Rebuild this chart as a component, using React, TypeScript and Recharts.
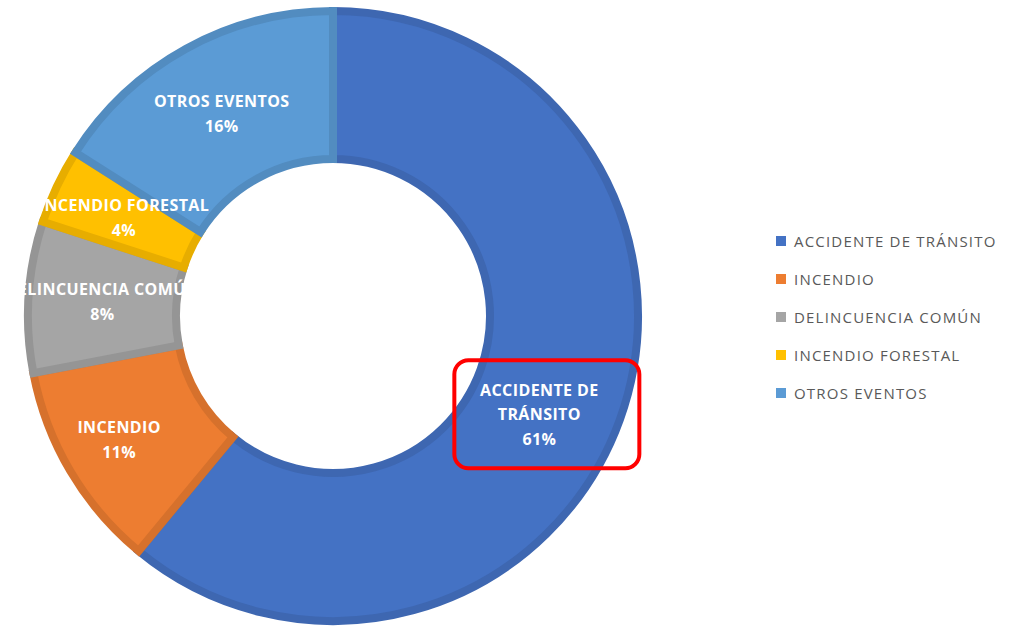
import { Legend, Pie, PieChart, Cell } from "recharts"

const categories = [
  "ACCIDENTE DE TRÁNSITO",
  "INCENDIO",
  "DELINCUENCIA COMÚN",
  "INCENDIO FORESTAL",
  "OTROS EVENTOS",
]
const values = [61, 11, 8, 4, 16]
const labelLines = [["ACCIDENTE DE", "TRÁNSITO"], ["INCENDIO"], ["DELINCUENCIA COMÚN"], ["INCENDIO FORESTAL"], ["OTROS EVENTOS"]]

const fills = ["#4472C4", "#ED7D31", "#A5A5A5", "#FFC000", "#5B9BD5"]
const borders = ["#3E67B1", "#D6712C", "#959595", "#E7AD00", "#528CC0"]

const data = categories.map((name, i) => ({ name, value: values[i] }))

const RAD = Math.PI / 180
const font = "'Open Sans', 'DejaVu Sans', sans-serif"

// label nudges (Excel moved a couple of them a bit)
const nudge: Record<number, [number, number]> = { 0: [-11, 20], 1: [-15, 6] }

function SliceLabel(props: any) {
  const { cx, cy, midAngle, innerRadius, outerRadius, percent, index } = props
  const r = (innerRadius + outerRadius) / 2
  const [dx, dy] = nudge[index] || [0, 0]
  const x = cx + r * Math.cos(-midAngle * RAD) + dx
  const y = cy + r * Math.sin(-midAngle * RAD) + dy
  const lines = [...labelLines[index], `${Math.round(percent * 100)}%`]
  const lh = 24.5
  const top = y - ((lines.length - 1) * lh) / 2
  return (
    <g>
      <text
        x={x}
        y={top}
        textAnchor="middle"
        dominantBaseline="central"
        fill="#fff"
        fontFamily={font}
        fontWeight={700}
        fontSize={16}
        letterSpacing={0.4}
      >
        {lines.map((l, i) => (
          <tspan key={i} x={x} y={top + i * lh}>
            {l}
          </tspan>
        ))}
      </text>
      {index === 0 && (
        <rect x={x - 85} y={y - 54} width={185} height={108} rx={14} fill="none" stroke="#FF0000" strokeWidth={4} />
      )}
    </g>
  )
}

function LegendList() {
  return (
    <div style={{ fontFamily: font, fontSize: 15, letterSpacing: 1.2, color: "#595959" }}>
      {data.map((d, i) => (
        <div key={d.name} style={{ display: "flex", alignItems: "center", height: 38 }}>
          <span style={{ width: 10, height: 10, background: fills[i], marginRight: 8, display: "inline-block", flex: "none" }} />
          <span style={{ whiteSpace: "nowrap" }}>{d.name}</span>
        </div>
      ))}
    </div>
  )
}

export default function App() {
  return (
    <div style={{ position: "absolute", left: 0, top: 0, width: 1021, height: 628, background: "#fff" }}>
      <PieChart width={1021} height={628} margin={{ top: 0, right: 0, bottom: 0, left: 0 }}>
        <Pie
          data={data}
          dataKey="value"
          nameKey="name"
          cx={333}
          cy={316}
          innerRadius={157}
          outerRadius={305}
          startAngle={90}
          endAngle={-270}
          label={SliceLabel}
          labelLine={false}
          isAnimationActive={false}
        >
          {data.map((d, i) => (
            <Cell key={d.name} fill={fills[i]} stroke={borders[i]} strokeWidth={8} />
          ))}
        </Pie>
        <Legend
          layout="vertical"
          content={<LegendList />}
          wrapperStyle={{ left: 776, top: 222, width: 245 }}
        />
      </PieChart>
    </div>
  )
}
